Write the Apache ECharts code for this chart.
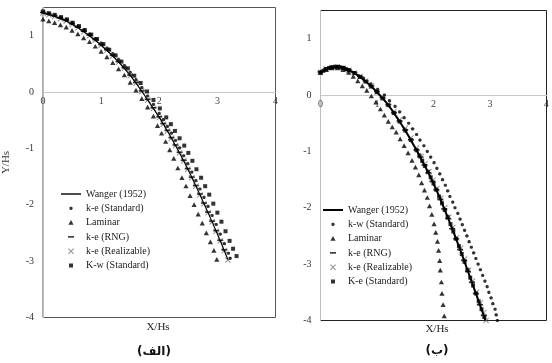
<!DOCTYPE html>
<html>
<head>
<meta charset="utf-8">
<script src="https://cdn.jsdelivr.net/npm/echarts@6/dist/echarts.min.js"></script>
<style>
html, body { margin: 0; padding: 0; background: #fff; }
#container { width: 552px; height: 363px; }
</style>
</head>
<body>
<div id="container"></div>
<script>
// axis ticks (both panels)
var xTicks = [0, 1, 2, 3, 4];
var yTicks = [-4, -3, -2, -1, 0, 1];
var yTop = 1.5;

var leftNames = ['Wanger (1952)', 'k-e (Standard)', 'Laminar', 'k-e (RNG)', 'k-e (Realizable)', 'K-w (Standard)'];
var rightNames = ['Wanger (1952)', 'k-w (Standard)', 'Laminar', 'k-e (RNG)', 'k-e (Realizable)', 'K-e (Standard)'];

// ---- panel (الف) ----
var leftWanger = [[0,1.40],[0.2,1.34],[0.4,1.26],[0.6,1.14],[0.8,1.00],[1.0,0.83],[1.2,0.64],[1.4,0.42],[1.6,0.16],[1.8,-0.14],
    [2.0,-0.45],[2.2,-0.80],[2.4,-1.18],[2.6,-1.60],[2.8,-2.05],[3.0,-2.52],[3.18,-2.97]];
var leftKeStd = [[0,1.42],[0.1,1.39],[0.2,1.36],[0.3,1.32],[0.4,1.28],[0.5,1.23],[0.6,1.17],[0.7,1.10],[0.8,1.03],[0.9,0.95],
    [1.0,0.87],[1.1,0.78],[1.2,0.68],[1.3,0.58],[1.4,0.47],[1.5,0.35],[1.6,0.22],[1.7,0.08],[1.8,-0.07],[1.9,-0.22],
    [2.0,-0.38],[2.07,-0.49],[2.14,-0.61],[2.21,-0.73],[2.28,-0.86],[2.35,-0.99],[2.42,-1.13],[2.49,-1.27],[2.56,-1.42],
    [2.63,-1.57],[2.70,-1.72],[2.77,-1.87],[2.84,-2.03],[2.91,-2.19],[2.98,-2.35],[3.05,-2.52],[3.12,-2.69],[3.19,-2.86],[3.22,-2.95]];
var leftLaminar = [[0,1.29],[0.1,1.26],[0.2,1.23],[0.3,1.19],[0.4,1.15],[0.5,1.09],[0.6,1.03],[0.7,0.96],[0.8,0.89],[0.9,0.81],
    [1.0,0.72],[1.1,0.62],[1.2,0.52],[1.3,0.41],[1.4,0.30],[1.5,0.17],[1.6,0.03],[1.7,-0.12],[1.8,-0.27],[1.9,-0.43],
    [1.97,-0.60],[2.04,-0.73],[2.11,-0.88],[2.18,-1.03],[2.25,-1.18],[2.32,-1.35],[2.39,-1.52],[2.46,-1.67],[2.53,-1.84],
    [2.60,-2.00],[2.67,-2.17],[2.74,-2.33],[2.81,-2.50],[2.88,-2.66],[2.94,-2.81],[2.99,-2.97]];
var leftRng = [[0,1.41],[0.1,1.38],[0.2,1.35],[0.3,1.31],[0.4,1.27],[0.5,1.21],[0.6,1.15],[0.7,1.08],[0.8,1.01],[0.9,0.93],
    [1.0,0.84],[1.1,0.75],[1.2,0.65],[1.3,0.54],[1.4,0.43],[1.5,0.30],[1.6,0.17],[1.7,0.02],[1.8,-0.13],[1.9,-0.28],
    [2.0,-0.44],[2.07,-0.56],[2.14,-0.68],[2.21,-0.81],[2.28,-0.94],[2.35,-1.07],[2.42,-1.21],[2.49,-1.36],[2.56,-1.51],
    [2.63,-1.66],[2.70,-1.81],[2.77,-1.97],[2.84,-2.13],[2.91,-2.29],[2.98,-2.46],[3.05,-2.63],[3.12,-2.80]];
var leftRealizable = [[0,1.40],[0.1,1.37],[0.2,1.34],[0.3,1.30],[0.4,1.26],[0.5,1.20],[0.6,1.14],[0.7,1.07],[0.8,1.00],[0.9,0.92],
    [1.0,0.83],[1.1,0.74],[1.2,0.64],[1.3,0.53],[1.4,0.42],[1.5,0.29],[1.6,0.16],[1.7,0.01],[1.8,-0.14],[1.9,-0.29],
    [2.0,-0.45],[2.07,-0.57],[2.14,-0.69],[2.21,-0.82],[2.28,-0.95],[2.35,-1.08],[2.42,-1.22],[2.49,-1.37],[2.56,-1.52],
    [2.63,-1.67],[2.70,-1.82],[2.77,-1.98],[2.84,-2.14],[2.91,-2.30],[2.98,-2.47],[3.05,-2.64],[3.12,-2.81],[3.18,-2.98]];
var leftKwStd = [[0,1.43],[0.1,1.40],[0.2,1.37],[0.31,1.33],[0.41,1.29],[0.51,1.23],[0.62,1.17],[0.72,1.10],[0.83,1.02],[0.93,0.94],
    [1.04,0.85],[1.14,0.75],[1.25,0.65],[1.35,0.54],[1.46,0.42],[1.57,0.29],[1.68,0.16],[1.79,0.01],[1.90,-0.14],[2.01,-0.29],
    [2.12,-0.45],[2.20,-0.57],[2.27,-0.69],[2.35,-0.82],[2.43,-0.95],[2.50,-1.08],[2.57,-1.22],[2.64,-1.37],[2.72,-1.52],
    [2.79,-1.67],[2.86,-1.82],[2.93,-1.98],[3.00,-2.14],[3.07,-2.30],[3.14,-2.47],[3.21,-2.64],[3.27,-2.78],[3.33,-2.91]];

// ---- panel (ب) ----
var rightWanger = [[0,0.40],[0.1,0.46],[0.2,0.49],[0.3,0.50],[0.4,0.48],[0.5,0.44],[0.6,0.39],[0.7,0.32],[0.8,0.24],[0.9,0.15],
    [1.0,0.05],[1.1,-0.06],[1.2,-0.18],[1.3,-0.32],[1.4,-0.47],[1.5,-0.63],[1.6,-0.80],[1.7,-0.98],[1.8,-1.17],[1.9,-1.36],
    [2.0,-1.57],[2.1,-1.80],[2.2,-2.04],[2.3,-2.29],[2.4,-2.55],[2.5,-2.82],[2.6,-3.10],[2.7,-3.38],[2.8,-3.66],[2.92,-4.0]];
var rightKwStd = [[0,0.41],[0.1,0.47],[0.2,0.50],[0.3,0.51],[0.4,0.49],[0.5,0.45],[0.6,0.40],[0.68,0.34],[0.76,0.30],[0.89,0.20],
    [1.01,0.10],[1.13,0.0],[1.22,-0.10],[1.32,-0.20],[1.40,-0.30],[1.48,-0.40],[1.56,-0.50],[1.63,-0.60],[1.70,-0.70],
    [1.76,-0.80],[1.83,-0.90],[1.89,-1.00],[1.95,-1.10],[2.01,-1.20],[2.06,-1.30],[2.11,-1.40],[2.16,-1.50],[2.21,-1.60],
    [2.25,-1.70],[2.29,-1.80],[2.34,-1.90],[2.38,-2.00],[2.43,-2.10],[2.47,-2.20],[2.51,-2.30],[2.55,-2.40],[2.59,-2.50],
    [2.63,-2.60],[2.67,-2.70],[2.71,-2.80],[2.75,-2.90],[2.79,-3.00],[2.83,-3.10],[2.87,-3.20],[2.91,-3.30],[2.95,-3.40],
    [2.98,-3.50],[3.02,-3.60],[3.05,-3.70],[3.09,-3.80],[3.11,-3.90],[3.13,-4.00]];
var rightLaminar = [[0,0.40],[0.1,0.45],[0.2,0.48],[0.3,0.48],[0.4,0.45],[0.5,0.40],[0.58,0.33],[0.66,0.25],[0.74,0.16],[0.82,0.08],
    [0.9,-0.02],[0.98,-0.13],[1.06,-0.25],[1.13,-0.36],[1.2,-0.47],[1.27,-0.57],[1.34,-0.66],[1.41,-0.78],[1.48,-0.90],
    [1.55,-1.03],[1.62,-1.16],[1.68,-1.28],[1.74,-1.42],[1.79,-1.56],[1.84,-1.69],[1.89,-1.82],[1.93,-1.97],[1.97,-2.12],
    [2.01,-2.29],[2.04,-2.44],[2.07,-2.60],[2.09,-2.76],[2.11,-2.94],[2.12,-3.11],[2.14,-3.32],[2.15,-3.52],[2.17,-3.72],[2.19,-3.92]];
var rightRng = [[0,0.41],[0.1,0.47],[0.2,0.50],[0.3,0.51],[0.4,0.49],[0.5,0.45],[0.6,0.40],[0.7,0.33],[0.8,0.25],[0.9,0.16],
    [1.0,0.06],[1.1,-0.05],[1.2,-0.17],[1.3,-0.31],[1.4,-0.46],[1.5,-0.62],[1.6,-0.79],[1.7,-0.97],[1.77,-1.10],[1.84,-1.24],
    [1.91,-1.38],[1.98,-1.53],[2.05,-1.68],[2.12,-1.85],[2.19,-2.02],[2.26,-2.19],[2.33,-2.37],[2.4,-2.55],[2.47,-2.74],
    [2.54,-2.93],[2.61,-3.13],[2.68,-3.32],[2.75,-3.52],[2.82,-3.72],[2.89,-3.91]];
var rightRealizable = [[0,0.40],[0.1,0.46],[0.2,0.49],[0.3,0.50],[0.4,0.48],[0.5,0.44],[0.6,0.39],[0.7,0.33],[0.8,0.25],[0.9,0.16],
    [1.0,0.06],[1.1,-0.04],[1.2,-0.16],[1.3,-0.29],[1.4,-0.44],[1.5,-0.59],[1.6,-0.76],[1.7,-0.94],[1.78,-1.09],[1.85,-1.22],
    [1.92,-1.36],[1.99,-1.51],[2.06,-1.66],[2.13,-1.83],[2.2,-2.00],[2.27,-2.17],[2.34,-2.35],[2.41,-2.53],[2.48,-2.72],
    [2.55,-2.91],[2.62,-3.11],[2.69,-3.30],[2.76,-3.50],[2.83,-3.69],[2.89,-3.86],[2.93,-4.0]];
var rightKeStd = [[0,0.40],[0.05,0.43],[0.1,0.46],[0.15,0.48],[0.2,0.49],[0.25,0.50],[0.3,0.50],[0.35,0.49],[0.4,0.48],[0.45,0.46],
    [0.5,0.44],[0.6,0.39],[0.7,0.32],[0.8,0.24],[0.9,0.15],[1.0,0.05],[1.1,-0.06],[1.2,-0.18],[1.3,-0.32],[1.4,-0.47],
    [1.5,-0.63],[1.6,-0.80],[1.7,-0.98],[1.75,-1.07],[1.8,-1.17],[1.85,-1.26],[1.9,-1.36],[1.95,-1.46],[2.0,-1.57],
    [2.05,-1.68],[2.1,-1.80],[2.15,-1.92],[2.2,-2.04],[2.25,-2.16],[2.3,-2.29],[2.35,-2.42],[2.4,-2.55],[2.45,-2.68],
    [2.5,-2.82],[2.55,-2.96],[2.6,-3.10],[2.65,-3.24],[2.7,-3.38],[2.75,-3.52],[2.8,-3.66],[2.85,-3.80],[2.9,-3.94]];

// marker shapes drawn inside a 10x10 box so legend and plot share size
var DOT = 'path://M0,0M10,10M3.4,4.3L4.3,3.4L5.7,3.4L6.6,4.3L6.6,5.7L5.7,6.6L4.3,6.6L3.4,5.7Z';
var TRI = 'path://M0,0M10,10M5,2.5L7.6,7.2L2.4,7.2Z';
var SQR = 'path://M0,0M10,10M3,3L7,3L7,7L3,7Z';
var DASH = 'path://M0,0M10,10M2,4.2L8,4.2L8,5.8L2,5.8Z';
var CROSS = 'path://M0,0M10,10M2,2.7L2.7,2L5,4.3L7.3,2L8,2.7L5.7,5L8,7.3L7.3,8L5,5.7L2.7,8L2,7.3L4.3,5Z';
var LINE1 = 'path://M0,4.3L20,4.3L20,5.7L0,5.7Z';
var LINE2 = 'path://M0,4L20,4L20,6L0,6Z';

var serif = 'Liberation Serif';
var plotH = 310;
// x axis sits on y = 0: shift it up from the grid bottom
var zeroOffset = -plotH * (0 - yTicks[0]) / (yTop - yTicks[0]);

var dom = document.getElementById('container');
var myChart = echarts.init(dom, null, { renderer: 'canvas' });

function marks(name, data, symbol, color, idx) {
    return {
        type: 'scatter', name: name, data: data, symbol: symbol, symbolSize: 10,
        xAxisIndex: idx, yAxisIndex: idx, itemStyle: { color: color, borderWidth: 0 },
        silent: true
    };
}
function curve(name, data, width, idx) {
    return {
        type: 'line', name: name, data: data, smooth: true, symbol: 'none', showSymbol: false,
        xAxisIndex: idx, yAxisIndex: idx, itemStyle: { color: '#000' },
        lineStyle: { color: '#000', width: width }, silent: true
    };
}
function xAx(idx) {
    return {
        type: 'value', gridIndex: idx, min: xTicks[0], max: xTicks[xTicks.length - 1], interval: 1,
        position: 'bottom', offset: zeroOffset,
        axisLine: { onZero: false, lineStyle: { color: '#c8c8c8', width: 1 } },
        axisTick: { show: false }, splitLine: { show: false },
        axisLabel: { margin: 4, color: '#444', fontFamily: serif, fontSize: 10 }
    };
}
function yAx(idx, name) {
    return {
        type: 'value', gridIndex: idx, min: yTicks[0], max: yTop, interval: 1,
        name: name, nameLocation: 'middle', nameGap: 31,
        nameTextStyle: { color: '#333', fontFamily: serif, fontSize: 11 },
        axisLine: { show: true, onZero: false, lineStyle: { color: '#bdbdbd', width: 1 } },
        axisTick: { show: false }, splitLine: { show: false },
        axisLabel: { margin: 9, color: '#333', fontFamily: serif, fontSize: 10, showMaxLabel: false }
    };
}
function legendOf(names, icons, left, top) {
    return {
        orient: 'vertical', left: left, top: top, padding: 0, itemWidth: 20, itemHeight: 10, itemGap: 2.3,
        selectedMode: false, itemStyle: { borderWidth: 0 },
        textStyle: { color: '#222', fontFamily: serif, fontSize: 10, lineHeight: 12 },
        data: names.map(function (n, i) { return { name: n, icon: icons[i] }; })
    };
}

option = {
    animation: false,
    backgroundColor: '#fff',
    grid: [
        { left: 40.5, top: 7.5, width: 235, height: plotH, show: true, borderColor: '#555', borderWidth: 1 },
        { left: 320.5, top: 10.5, width: 235, height: plotH, show: true, borderColor: '#222', borderWidth: 1 }
    ],
    xAxis: [xAx(0), xAx(1)],
    yAxis: [yAx(0, 'Y/Hs'), yAx(1, '')],
    legend: [
        legendOf(leftNames, [LINE1, DOT, TRI, DASH, CROSS, SQR], 61, 188),
        legendOf(rightNames, [LINE2, DOT, TRI, DASH, CROSS, SQR], 323, 204)
    ],
    graphic: [
        { type: 'text', x: 158, y: 327, style: { text: 'X/Hs', align: 'center', verticalAlign: 'middle', fontFamily: serif, fontSize: 11, fill: '#222' } },
        { type: 'text', x: 437, y: 329, style: { text: 'X/Hs', align: 'center', verticalAlign: 'middle', fontFamily: serif, fontSize: 11, fill: '#222' } },
        { type: 'text', x: 154, y: 352, style: { text: '(الف)', align: 'center', verticalAlign: 'middle', fontFamily: 'DejaVu Sans', fontWeight: 'bold', fontSize: 12, fill: '#111' } },
        { type: 'text', x: 437, y: 351, style: { text: '(ب)', align: 'center', verticalAlign: 'middle', fontFamily: 'DejaVu Sans', fontWeight: 'bold', fontSize: 12, fill: '#111' } }
    ],
    series: [
        curve(leftNames[0], leftWanger, 1.2, 0),
        marks(leftNames[4], leftRealizable, CROSS, '#777', 0),
        marks(leftNames[3], leftRng, DASH, '#000', 0),
        marks(leftNames[1], leftKeStd, DOT, '#000', 0),
        marks(leftNames[5], leftKwStd, SQR, '#000', 0),
        marks(leftNames[2], leftLaminar, TRI, '#000', 0),

        curve(rightNames[0], rightWanger, 2, 1),
        marks(rightNames[4], rightRealizable, CROSS, '#777', 1),
        marks(rightNames[3], rightRng, DASH, '#000', 1),
        marks(rightNames[5], rightKeStd, SQR, '#000', 1),
        marks(rightNames[1], rightKwStd, DOT, '#000', 1),
        marks(rightNames[2], rightLaminar, TRI, '#000', 1)
    ]
};
myChart.setOption(option);

window.addEventListener('resize', function () {
    myChart.resize();
});
</script>
</body>
</html>
